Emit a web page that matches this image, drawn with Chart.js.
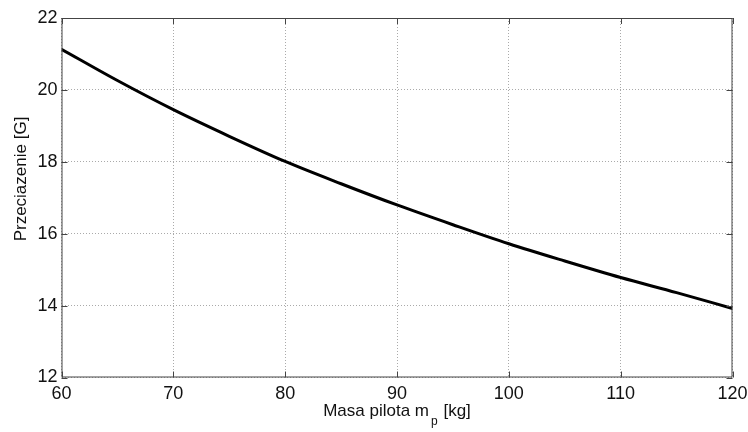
<!DOCTYPE html>
<html>
<head>
<meta charset="utf-8">
<script src="https://cdn.jsdelivr.net/npm/chart.js@4"></script>
<style>
  html, body { margin: 0; padding: 0; background: #fff; }
  #wrap { width: 748px; height: 432px; position: relative; }
</style>
</head>
<body>
<div id="wrap"><canvas id="gChart"></canvas></div>
<script>
// pilot mass [kg] and load factor [G]
const masses = [60, 65, 70, 75, 80, 85, 90, 95, 100, 105, 110, 115, 120];
const loads = [21.13, 20.26, 19.45, 18.71, 18.01, 17.39, 16.80, 16.25, 15.72, 15.24, 14.78, 14.36, 13.92];
const xTicks = [60, 70, 80, 90, 100, 110, 120];
const yTicks = [12, 14, 16, 18, 20, 22];

const FONT = "'Liberation Sans', Arial, sans-serif";

// box round the plot, small inward ticks, axis titles (x title has a subscript)
const frame = {
	id: "frame",
	afterDraw(chart) {
		const c = chart.ctx;
		const a = chart.chartArea;
		const xs = chart.scales.x;
		const ys = chart.scales.y;
		c.save();
		c.strokeStyle = "#444";
		c.lineWidth = 1;
		c.setLineDash([]);
		c.strokeRect(a.left + 0.5, a.top + 0.5, a.right - a.left - 1, a.bottom - a.top - 1);
		c.beginPath();
		xTicks.forEach((v) => {
			const px = Math.round(xs.getPixelForValue(v)) + 0.5;
			c.moveTo(px, a.bottom); c.lineTo(px, a.bottom - 6);
			c.moveTo(px, a.top); c.lineTo(px, a.top + 6);
		});
		yTicks.forEach((v) => {
			const py = Math.round(ys.getPixelForValue(v)) + 0.5;
			c.moveTo(a.left, py); c.lineTo(a.left + 6, py);
			c.moveTo(a.right, py); c.lineTo(a.right - 6, py);
		});
		c.stroke();

		c.fillStyle = "#111";
		c.textBaseline = "alphabetic";
		// x title
		const main = "Masa pilota m";
		const tail = " [kg]";
		c.font = "17px " + FONT;
		const w1 = c.measureText(main).width;
		const w3 = c.measureText(tail).width;
		c.font = "12px " + FONT;
		const w2 = c.measureText("p").width + 3;
		const total = w1 + w2 + w3;
		let x = (a.left + a.right) / 2 - total / 2;
		c.font = "17px " + FONT;
		c.textAlign = "left";
		c.fillText(main, x, 416);
		c.font = "12px " + FONT;
		c.fillText("p", x + w1 + 2, 425);
		c.font = "17px " + FONT;
		c.fillText(tail, x + w1 + w2, 416);

		// y title
		c.translate(26, 179);
		c.rotate(-Math.PI / 2);
		c.textAlign = "center";
		c.fillText("Przeciazenie [G]", 0, 0);
		c.restore();
	},
};

const ctx = document.getElementById("gChart").getContext("2d");
const chart = new Chart(ctx, {
	type: "line",
	data: {
		datasets: [
			{
				data: masses.map((m, i) => ({ x: m, y: loads[i] })),
				borderColor: "#000",
				borderWidth: 3,
				pointRadius: 0,
				tension: 0.4,
				cubicInterpolationMode: "monotone",
				fill: false,
			},
		],
	},
	options: {
		responsive: true,
		maintainAspectRatio: false,
		animation: false,
		layout: { padding: { top: 18, right: 0, left: 0, bottom: 0 } },
		plugins: { legend: { display: false }, tooltip: { enabled: false } },
		scales: {
			x: {
				type: "linear",
				min: 60,
				max: 120,
				afterBuildTicks: (s) => { s.ticks = xTicks.map((v) => ({ value: v })); },
				afterFit: (s) => {
					s.height = 54.5;
					s.paddingRight = 15.5;
					s.paddingLeft = 0;
				},
				ticks: { font: { size: 18, family: FONT }, color: "#111", padding: 6, maxRotation: 0 },
				grid: { color: "#aaa", drawTicks: false },
				border: { display: false, dash: [1, 2] },
			},
			y: {
				min: 12,
				max: 22,
				afterBuildTicks: (s) => { s.ticks = yTicks.map((v) => ({ value: v })); },
				afterFit: (s) => {
					s.width = 61.5;
					s.paddingTop = 0;
					s.paddingBottom = 0;
				},
				ticks: { font: { size: 18, family: FONT }, color: "#111", padding: 4 },
				grid: { color: "#aaa", drawTicks: false },
				border: { display: false, dash: [1, 2] },
			},
		},
	},
	plugins: [frame],
});
</script>
</body>
</html>
